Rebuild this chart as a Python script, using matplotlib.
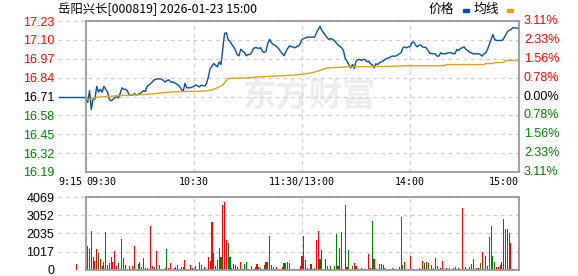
import matplotlib.pyplot as plt
from matplotlib.transforms import blended_transform_factory
from matplotlib.patches import Rectangle

plt.rcParams['font.family'] = ['Liberation Sans', 'Noto Sans CJK SC']

title = '岳阳兴长[000819] 2026-01-23 15:00'
prev_close = 16.71

# minutes after 09:30 (afternoon continues from 11:30 = 120)
price_min = [0, 1, 2, 3, 4, 5, 6, 7, 8, 9, 10, 11, 12, 13, 14, 15, 16, 17, 18, 19,
             20, 21, 22, 23, 24, 26, 27, 28, 30, 31, 32, 33, 34, 36, 38, 40, 42, 43, 44, 45,
             46, 47, 48, 50, 52, 53, 54, 55, 56, 58, 60, 61, 63, 64, 66, 67, 68, 69, 71, 72,
             73, 74, 75, 76, 77, 78, 79, 80, 81, 82, 83, 84, 85, 86, 87, 88, 89, 90, 91, 92,
             93, 94, 95, 96, 97, 98, 99, 100, 101, 102, 103, 104, 105, 106, 107, 108, 109, 110, 111, 112,
             113, 114, 115, 116, 117, 118, 119, 120, 121, 122, 123, 126, 127, 128, 129, 130, 131, 132, 133, 134,
             135, 136, 137, 138, 139, 140, 141, 142, 143, 144, 145, 146, 147, 148, 149, 150, 151, 152, 153, 154,
             155, 156, 157, 158, 159, 160, 161, 162, 163, 164, 165, 166, 167, 168, 169, 170, 171, 172, 173, 174,
             175, 176, 177, 178, 179, 180, 181, 182, 183, 184, 185, 186, 187, 188, 189, 190, 191, 192, 194, 195,
             196, 197, 198, 200, 201, 202, 203, 204, 205, 206, 207, 208, 209, 210, 211, 212, 213, 214, 215, 216,
             218, 219, 220, 221, 222, 223, 224, 225, 226, 227, 228, 230, 231, 232, 233, 234, 235, 236, 237, 238,
             239, 240]
price = [16.71, 16.67, 16.75, 16.62, 16.70, 16.69, 16.78, 16.74, 16.76, 16.74, 16.78, 16.76, 16.74, 16.69, 16.68, 16.69, 16.70, 16.71, 16.70, 16.73,
         16.77, 16.76, 16.76, 16.75, 16.72, 16.72, 16.73, 16.72, 16.73, 16.74, 16.75, 16.745, 16.78, 16.80, 16.825, 16.832, 16.83, 16.82, 16.81, 16.82,
         16.825, 16.81, 16.81, 16.80, 16.78, 16.76, 16.745, 16.80, 16.77, 16.77, 16.78, 16.79, 16.776, 16.788, 16.783, 16.80, 16.845, 16.902, 16.937, 16.925,
         16.914, 16.948, 16.93, 17.04, 17.144, 17.15, 17.10, 17.091, 17.068, 17.052, 17.029, 16.999, 16.99, 17.036, 17.022, 17.013, 16.99, 16.999, 16.999, 17.013,
         17.04, 17.047, 17.045, 17.04, 17.047, 17.022, 17.013, 17.022, 17.075, 17.104, 17.081, 17.068, 17.063, 17.052, 17.04, 17.022, 17.006, 16.99, 17.017, 17.04,
         17.059, 17.052, 17.052, 17.045, 17.052, 17.059, 17.073, 17.103, 17.109, 17.114, 17.119, 17.119, 17.119, 17.148, 17.171, 17.194, 17.165, 17.148, 17.132, 17.114,
         17.103, 17.109, 17.103, 17.096, 17.08, 17.064, 17.057, 17.045, 17.027, 16.972, 16.953, 16.93, 16.907, 16.93, 16.903, 16.953, 16.965, 16.965, 16.958, 16.965,
         16.965, 16.949, 16.953, 16.935, 16.93, 16.907, 16.935, 16.93, 16.942, 16.949, 16.953, 16.965, 16.972, 16.976, 16.981, 16.988, 16.988, 16.988, 16.995, 17.004,
         17.011, 17.045, 17.052, 17.045, 17.052, 17.052, 17.08, 17.087, 17.064, 17.052, 17.064, 17.064, 17.05, 17.05, 17.045, 17.027, 17.006, 17.006, 17.004, 16.988,
         16.988, 17.011, 17.004, 17.004, 17.011, 17.011, 17.011, 17.004, 17.006, 17.034, 17.027, 17.041, 17.045, 17.052, 17.034, 17.027, 17.015, 17.011, 17.004, 17.004,
         17.004, 16.999, 16.988, 17.004, 17.011, 17.034, 17.068, 17.103, 17.137, 17.103, 17.096, 17.096, 17.096, 17.109, 17.132, 17.155, 17.165, 17.171, 17.183, 17.183,
         17.183, 17.178]

avg_min = [1, 4, 6, 9, 14, 20, 28, 34, 40, 46, 56, 62, 66, 70, 73, 76, 79, 90, 96, 109,
           116, 122, 126, 130, 134, 140, 145, 170, 178, 199, 200, 221, 222, 226, 227, 232, 233, 240]
avg = [16.69, 16.695, 16.705, 16.708, 16.712, 16.717, 16.722, 16.725, 16.732, 16.74,
       16.745, 16.745, 16.748, 16.755, 16.77, 16.79, 16.834, 16.838, 16.845, 16.853,
       16.858, 16.866, 16.875, 16.89, 16.907, 16.911, 16.914, 16.918, 16.922, 16.922,
       16.93, 16.93, 16.937, 16.937, 16.944, 16.944, 16.958, 16.958]

# call auction bar at 09:25
auction_min = -5
auction_vol = 334

# volume per minute, 09:31-11:30 then 13:01-15:00
vol_am = [1337, 1170, 2172, 724, 500, 1170, 947, 613, 223, 445,
          2117, 278, 390, 724, 445, 1058, 223, 390, 56, 1727,
          668, 278, 56, 223, 56, 223, 1337, 56, 334, 445,
          167, 668, 111, 111, 56, 2451, 223, 167, 1058, 56,
          278, 56, 56, 111, 1170, 111, 390, 56, 111, 167,
          278, 56, 167, 167, 557, 56, 56, 278, 111, 56,
          223, 56, 445, 278, 56, 167, 56, 724, 501, 2674,
          947, 223, 557, 1225, 724, 3620, 3788, 1671, 1504, 724,
          111, 334, 278, 167, 56, 445, 56, 334, 445, 56,
          56, 223, 56, 167, 334, 167, 111, 56, 278, 445,
          445, 1894, 278, 167, 56, 167, 56, 56, 167, 390,
          390, 445, 390, 56, 56, 56, 56, 56, 223, 780]
dir_am = ("grgrrrgrrg" "ggggrrrgrr" "ggrgrrrrgr" "grrgrrrgrr" "ggrggrrgrg" "grggrggrrr"
          "rggrgrgrrr" "rggrgrrrgg" "rggggrrggr" "grrgrrgggr" "rrgrgrggrg" "rrrrgrrrrr")
vol_pm = [1894, 557, 111, 56, 334, 56, 111, 1671, 2172, 613,
          1114, 56, 613, 223, 56, 223, 56, 223, 2005, 223,
          1225, 2117, 56, 3620, 167, 1114, 56, 223, 390, 223,
          56, 56, 111, 56, 56, 56, 891, 111, 2729, 613,
          56, 56, 334, 334, 278, 111, 56, 56, 56, 111,
          56, 56, 56, 167, 2952, 278, 445, 56, 56, 780,
          56, 56, 56, 56, 111, 56, 501, 390, 445, 390,
          56, 278, 111, 668, 223, 56, 111, 501, 56, 111,
          56, 111, 56, 111, 167, 56, 111, 56, 3453, 56,
          167, 56, 167, 334, 613, 56, 111, 111, 390, 1003,
          56, 780, 223, 1838, 2451, 780, 445, 167, 167, 278,
          445, 2841, 2284, 2284, 2061, 1504, 56, 56, 56, 1225]
dir_pm = ("rgrrrrgrrg" "grggrgrggr" "ggrgrgrgrr" "rgrrgrrrgr" "rrgrrgrrgr" "grrrrgrgrr"
          "ggrrgrrgrg" "rrrgrrrrrr" "gggrrgrrrg" "grgggrrrgr" "grrrrggrrr" "rrrrrrrrrg")

price_ticks = [17.23, 17.10, 16.97, 16.84, 16.71, 16.58, 16.45, 16.32, 16.19]
pct_labels = ['3.11%', '2.33%', '1.56%', '0.78%', '0.00%', '0.78%', '1.56%', '2.33%', '3.11%']
vol_ticks = [0, 1017, 2035, 3052, 4069]

RED = '#ff0000'
GREEN = '#008000'
BLUE = '#0a4f9f'
ORANGE = '#e0a01c'
GRID = '#cfcfcf'
BOX = '#999999'

xmin, xmax = -15.5, 240.5
W, H = 578, 276

fig = plt.figure(figsize=(W / 100, H / 100), dpi=100)
ax = fig.add_axes([58 / W, 1 - 172 / H, 461 / W, 151 / H])
axv = fig.add_axes([58 / W, 1 - 270 / H, 461 / W, 73 / H])


def frame(a, ylo, yhi, yticks):
    a.set_xlim(xmin, xmax)
    a.set_ylim(ylo, yhi)
    for s in a.spines.values():
        s.set_visible(False)
    a.set_xticks([])
    a.set_yticks(yticks)
    a.tick_params(axis='y', length=0, pad=2.5, labelsize=9)
    for t in yticks:
        a.axhline(t, color=GRID, lw=0.9, ls=(0, (3, 3)), zorder=0.5)
    for m in [60, 120, 180]:
        a.axvline(m, color=GRID, lw=0.9, ls=(0, (3, 3)), zorder=0.5)
    f = (0 - xmin) / (xmax - xmin)
    a.axhline(yhi, xmin=f, color=BOX, lw=1.3, zorder=3, clip_on=False)
    a.axhline(ylo, xmin=f, color=BOX, lw=1.3, zorder=3, clip_on=False)
    a.axvline(0, color=BOX, lw=1.3, zorder=3, clip_on=False)
    a.axvline(xmax, color=BOX, lw=1.3, zorder=3, clip_on=False)


frame(ax, 16.19, 17.23, price_ticks)
frame(axv, 0, 4069, vol_ticks)

# price panel
ax.set_yticklabels(['%.2f' % v for v in price_ticks])
for lab, v in zip(ax.get_yticklabels(), price_ticks):
    lab.set_color(RED if v > prev_close + 1e-6 else (GREEN if v < prev_close - 1e-6 else 'black'))

ax.plot([-15, 0], [prev_close, prev_close], color=BLUE, lw=1, zorder=2)
ax.plot(price_min, price, color=BLUE, lw=1, zorder=2)
ax.plot(avg_min, avg, color=ORANGE, lw=1, zorder=2)

tr = blended_transform_factory(ax.transAxes, ax.transData)
for v, lab in zip(price_ticks, pct_labels):
    c = RED if v > prev_close + 1e-6 else (GREEN if v < prev_close - 1e-6 else 'black')
    ax.text(1 + 5 / 461, v, lab, transform=tr, color=c, fontsize=9,
            ha='left', va='center')

# time labels
trx = blended_transform_factory(ax.transData, ax.transAxes)
xl = [(-15.5, '9:15', 'left'), (0, '09:30', 'left'), (60, '10:30', 'center'),
      (120, '11:30/13:00', 'center'), (180, '14:00', 'center'), (xmax, '15:00', 'right')]
for m, s, ha in xl:
    ax.text(m, -10 / 151, s, transform=trx, ha=ha, va='center', fontsize=7.2,
            family='DejaVu Sans Mono', color='black')

# watermark
ax.text(309 / W, 1 - 97 / H, '东方财富', transform=fig.transFigure, fontsize=24,
        fontweight='bold', color='#ececec', ha='center', va='center',
        family=['Noto Sans CJK SC'], zorder=0.2)

# volume panel
axv.set_yticklabels([str(v) for v in vol_ticks])
colors = {'r': RED, 'g': GREEN}
minutes = list(range(1, 241))
vols = vol_am + vol_pm
cols = [colors[c] for c in dir_am + dir_pm]
axv.bar(minutes, vols, width=0.6, color=cols, linewidth=0, zorder=2)
axv.bar([auction_min], [auction_vol], width=0.6, color=RED, linewidth=0, zorder=2)

# title and legend
fig.text(58 / W, 1 - 9 / H, title, fontsize=8.9, va='center', ha='left',
         family=['Noto Sans CJK SC'])
fig.text(429 / W, 1 - 9 / H, '价格', fontsize=9.2, va='center', ha='left',
         family=['Noto Sans CJK SC'])
fig.text(474 / W, 1 - 9 / H, '均线', fontsize=9.2, va='center', ha='left',
         family=['Noto Sans CJK SC'])
fig.patches.append(Rectangle((463 / W, 1 - 12 / H), 6 / W, 3 / H,
                             transform=fig.transFigure, color=BLUE))
fig.patches.append(Rectangle((507 / W, 1 - 12 / H), 6 / W, 3 / H,
                             transform=fig.transFigure, color=ORANGE))

fig.savefig('out.png', dpi=100)
